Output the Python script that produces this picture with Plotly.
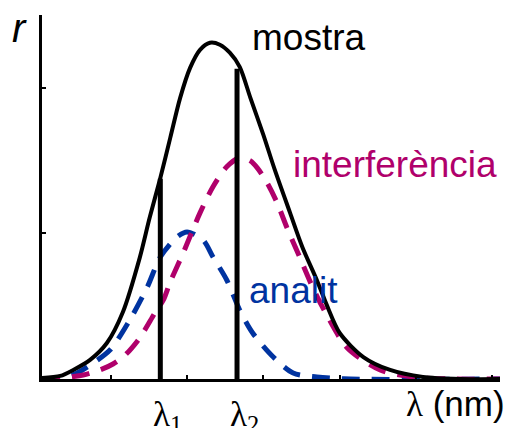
import plotly.graph_objects as go

# ---- data ----
mostra_x = [0.10, 0.34, 0.51, 0.73, 0.95, 1.16, 1.38, 1.51, 1.65, 1.78, 1.91, 2.04, 2.17, 2.30,
            2.43, 2.56, 2.69, 2.83, 3.00, 3.15, 3.35, 3.51, 3.70, 3.83, 4.00, 4.31, 4.66, 5.09,
            5.58, 6.10]
mostra_y = [0.007, 0.021, 0.062, 0.131, 0.247, 0.460, 0.832, 1.107, 1.381, 1.656, 1.931, 2.137,
            2.261, 2.309, 2.296, 2.241, 2.144, 1.931, 1.677, 1.436, 1.141, 0.907, 0.680, 0.509,
            0.316, 0.151, 0.062, 0.014, 0.0, 0.0]

analit_x = [0.10, 0.34, 0.53, 0.69, 0.99, 1.25, 1.48, 1.65, 1.87, 2.00, 2.21, 2.34, 2.52, 2.69,
            2.86, 3.13, 3.39, 3.70, 4.14, 6.10]
analit_y = [0.0, 0.007, 0.034, 0.082, 0.199, 0.405, 0.632, 0.838, 0.976, 1.010, 0.955, 0.838,
            0.680, 0.474, 0.316, 0.151, 0.041, 0.014, 0.0, 0.0]

interf_x = [0.10, 0.34, 0.64, 0.86, 1.03, 1.19, 1.38, 1.58, 1.69, 1.78, 1.95, 2.17, 2.34, 2.52,
            2.69, 2.83, 2.92, 3.05, 3.18, 3.31, 3.48, 3.65, 3.83, 4.10, 4.53, 4.96, 5.45, 6.10]
interf_y = [0.0, 0.007, 0.027, 0.062, 0.103, 0.165, 0.282, 0.454, 0.543, 0.667, 0.866, 1.141,
            1.320, 1.457, 1.519, 1.498, 1.450, 1.347, 1.210, 1.038, 0.832, 0.625, 0.440, 0.213,
            0.062, 0.014, 0.0, 0.0]

lambda_x = [1.65, 2.655]
lambda_top = [1.375, 2.131]
lambda_labels = ["λ<sub>1</sub>", "λ<sub>2</sub>"]

x_ticks = [1, 2, 3, 4, 5, 6]
y_ticks = [1, 2]

BLUE = "#0033a0"
MAGENTA = "#b0006b"

fig = go.Figure()
fig.add_trace(go.Scatter(x=analit_x, y=analit_y, mode="lines", cliponaxis=False, hoverinfo="skip",
                         line=dict(color=BLUE, width=5, dash="18px,12px", shape="spline", smoothing=0.8)))
fig.add_trace(go.Scatter(x=interf_x, y=interf_y, mode="lines", cliponaxis=False, hoverinfo="skip",
                         line=dict(color=MAGENTA, width=5, dash="18px,12px", shape="spline", smoothing=0.8)))
fig.add_trace(go.Scatter(x=mostra_x, y=mostra_y, mode="lines", cliponaxis=False, hoverinfo="skip",
                         line=dict(color="black", width=4, shape="spline", smoothing=0.8)))

vx, vy = [], []
for lx, lt in zip(lambda_x, lambda_top):
    vx += [lx, lx, None]
    vy += [0, lt, None]
fig.add_trace(go.Scatter(x=vx, y=vy, mode="lines", cliponaxis=False, hoverinfo="skip",
                         line=dict(color="black", width=5)))

SANS = "Liberation Sans, Arial, sans-serif"
SERIF = "Liberation Serif, Times New Roman, serif"

annotations = [
    dict(text="mostra", xref="paper", yref="paper", x=(250 - 42) / 458, y=(379 - 37) / 364,
         xanchor="left", yanchor="middle", showarrow=False,
         font=dict(family=SANS, size=37, color="black")),
    dict(text="interferència", xref="paper", yref="paper", x=(291 - 42) / 458, y=(379 - 164) / 364,
         xanchor="left", yanchor="middle", showarrow=False,
         font=dict(family=SANS, size=37, color=MAGENTA)),
    dict(text="analit", xref="paper", yref="paper", x=(247 - 42) / 458, y=(379 - 290) / 364,
         xanchor="left", yanchor="middle", showarrow=False,
         font=dict(family=SANS, size=37, color=BLUE)),
    dict(text="r", xref="paper", yref="paper", x=(10 - 42) / 458, y=(379 - 28) / 364,
         xanchor="left", yanchor="middle", showarrow=False,
         font=dict(family=SANS, size=40, color="black", style="italic")),
    dict(text="<span style='font-family:Liberation Serif'>λ</span> (nm)", xref="paper", yref="paper",
         x=(507 - 42) / 458, y=(379 - 404) / 364,
         xanchor="right", yanchor="middle", showarrow=False,
         font=dict(family=SANS, size=35, color="black")),
]
for lx, lab in zip(lambda_x, lambda_labels):
    annotations.append(dict(text=lab, x=lx, xref="x", yref="paper", y=(379 - 393) / 364,
                            xanchor="center", xshift=7, yanchor="top", showarrow=False,
                            font=dict(family=SERIF, size=35, color="black")))

fig.update_layout(
    width=510, height=428,
    margin=dict(l=42, r=10, t=15, b=49),
    paper_bgcolor="white", plot_bgcolor="white",
    showlegend=False,
    hovermode=False,
    annotations=annotations,
    xaxis=dict(range=[0.1, 6.1], showline=True, linecolor="black", linewidth=3,
               ticks="inside", ticklen=4, tickwidth=2, tickcolor="black",
               tickvals=x_ticks, showticklabels=False, showgrid=False, zeroline=False),
    yaxis=dict(range=[0, 2.5], showline=True, linecolor="black", linewidth=3,
               ticks="inside", ticklen=4, tickwidth=2, tickcolor="black",
               tickvals=y_ticks, showticklabels=False, showgrid=False, zeroline=False),
)

fig.write_html("out.html", config={"displayModeBar": False, "staticPlot": True},
               post_script="document.body.style.margin='0';document.body.style.overflow='hidden';")
